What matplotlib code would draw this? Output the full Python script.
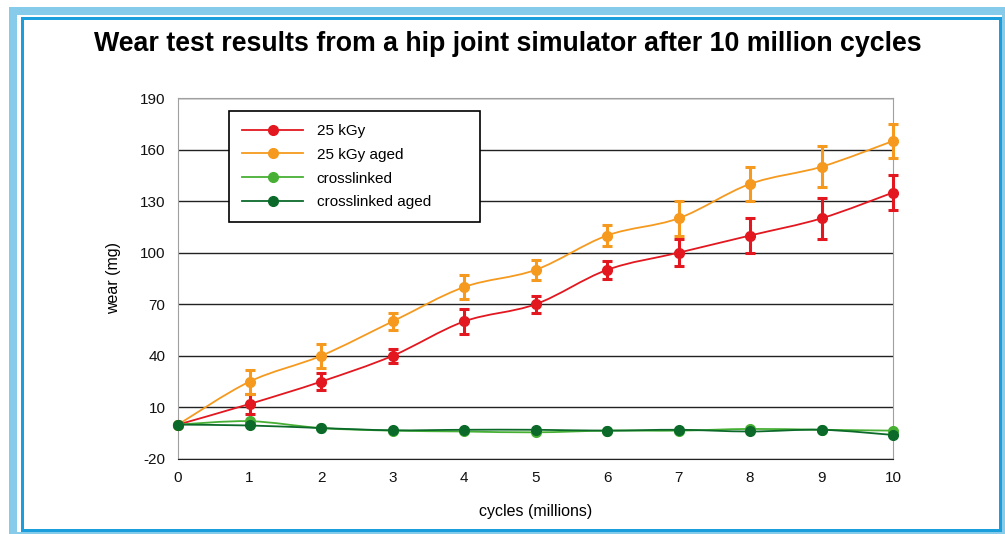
"""Wear test results chart (hip joint simulator)."""

import matplotlib

matplotlib.use("Agg")
import matplotlib.pyplot as plt
from matplotlib.path import Path
from matplotlib.patches import PathPatch, Rectangle
from matplotlib.lines import Line2D

plt.rcParams["font.family"] = ["Liberation Sans", "DejaVu Sans"]
plt.rcParams["axes.unicode_minus"] = False

cycles = [0, 1, 2, 3, 4, 5, 6, 7, 8, 9, 10]
kgy25 = [0, 12, 25, 40, 60, 70, 90, 100, 110, 120, 135]
kgy25_err = [0, 6, 5, 4, 7, 5, 5, 8, 10, 12, 10]
kgy25_aged = [0, 25, 40, 60, 80, 90, 110, 120, 140, 150, 165]
kgy25_aged_err = [0, 7, 7, 5, 7, 6, 6, 10, 10, 12, 10]
crosslinked = [0, 2, -2, -3.5, -4, -4.5, -3.5, -3.5, -2.5, -3, -3.5]
crosslinked_aged = [0, -0.5, -2, -3.3, -3, -3, -3.5, -3, -4, -3, -6]

series = [
    ("25 kGy", kgy25, kgy25_err, "#e2171f"),
    ("25 kGy aged", kgy25_aged, kgy25_aged_err, "#f59a1e"),
    ("crosslinked", crosslinked, None, "#47b034"),
    ("crosslinked aged", crosslinked_aged, None, "#0b6a2a"),
]

W, H = 1005, 534


def smooth_path(xs, ys):
    # Catmull-Rom style bezier through the points (like Excel smoothed lines)
    pts = list(zip(xs, ys))
    verts = [pts[0]]
    codes = [Path.MOVETO]
    n = len(pts)
    for i in range(n - 1):
        p0 = pts[i - 1] if i > 0 else pts[i]
        p1 = pts[i]
        p2 = pts[i + 1]
        p3 = pts[i + 2] if i + 2 < n else pts[i + 1]
        c1 = (p1[0] + (p2[0] - p0[0]) / 6, p1[1] + (p2[1] - p0[1]) / 6)
        c2 = (p2[0] - (p3[0] - p1[0]) / 6, p2[1] - (p3[1] - p1[1]) / 6)
        verts += [c1, c2, p2]
        codes += [Path.CURVE4] * 3
    return Path(verts, codes)


def px_rect(x0, y0, x1, y1, color):
    # rectangle given in pixel coords measured from the top-left
    return Rectangle((x0 / W, 1 - y1 / H), (x1 - x0) / W, (y1 - y0) / H,
                     transform=fig.transFigure, facecolor=color, edgecolor="none", zorder=0)


fig = plt.figure(figsize=(W / 100, H / 100), dpi=100)

# frame around the picture
light, dark = "#86cbe9", "#1a9edc"
for r in [(9, 7, W, 15), (9, 7, 17, H), (1002, 7, W, H), (9, 532, W, H)]:
    fig.patches.append(px_rect(*r, light))
for r in [(21, 17, 1001, 20), (21, 17, 24, 531), (999, 17, 1002, 532), (21, 529, 1002, 532)]:
    fig.patches.append(px_rect(*r, dark))

ax = fig.add_axes([178 / W, 1 - 459 / H, 715 / W, 361 / H])

for label, vals, err, color in series:
    ax.add_patch(PathPatch(smooth_path(cycles, vals), facecolor="none", edgecolor=color,
                           linewidth=1.3, zorder=3, clip_on=False))
    ax.plot(cycles, vals, linestyle="none", marker="o", markersize=7, color=color, zorder=4,
            clip_on=False)
    if err is not None:
        eb = ax.errorbar(cycles[1:], vals[1:], yerr=err[1:], fmt="none", ecolor=color,
                         elinewidth=2.2, capsize=3.5, capthick=2.2, zorder=4)
        for art in eb.lines[1] + eb.lines[2]:
            art.set_clip_on(False)

ax.set_xlim(0, 10)
ax.set_ylim(-20, 190)
ax.set_xticks(cycles)
ax.set_yticks(range(-20, 191, 30))
ax.yaxis.grid(True, color="#222222", linewidth=1.0)
ax.set_axisbelow(True)
ax.tick_params(length=0, labelsize=11, colors="#111111", pad=9)
for side in ["top", "right", "left"]:
    ax.spines[side].set_color("#a0a0a0")
ax.spines["bottom"].set_color("#222222")
ax.set_xlabel("cycles (millions)", fontsize=11.5, labelpad=13)
ax.set_ylabel("wear (mg)", fontsize=11.5, labelpad=14)

handles = [Line2D([0], [0], color=c, linewidth=1.3, marker="o", markersize=7) for _, _, _, c in series]
leg = ax.legend(handles, [s[0] for s in series], loc="upper left",
                bbox_to_anchor=(51 / 715, 348 / 361 - 0.01, 251 / 715, 0.01), mode="expand",
                fontsize=11, frameon=True, fancybox=False, edgecolor="black", handlelength=4.0,
                borderpad=0.85, labelspacing=0.64, handletextpad=0.9, borderaxespad=0)
leg.get_frame().set_linewidth(1.2)
leg.get_frame().set_alpha(1)

fig.text(508 / W, 1 - 44 / H, "Wear test results from a hip joint simulator after 10 million cycles",
         ha="center", va="center", fontsize=19.3, fontweight="bold")

fig.savefig("out.png", dpi=100)
